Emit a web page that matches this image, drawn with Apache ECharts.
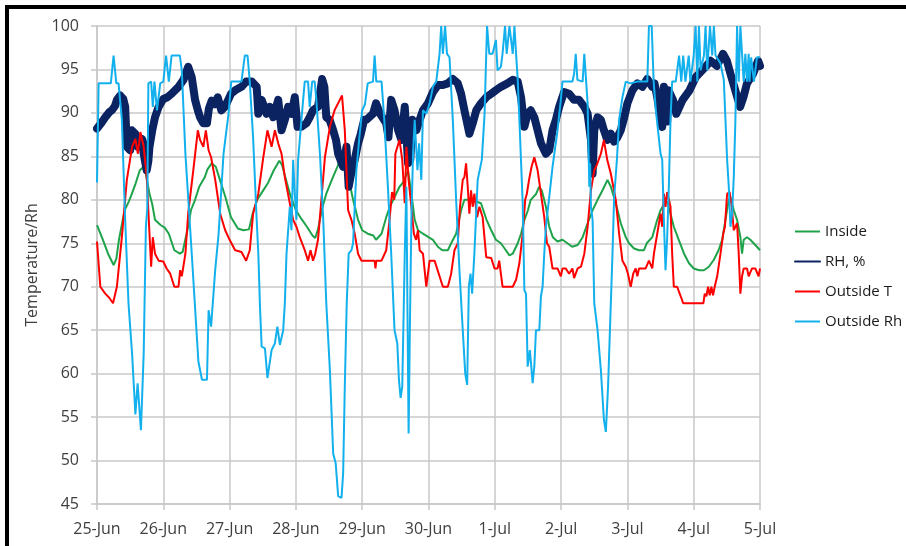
<!DOCTYPE html>
<html>
<head>
<meta charset="utf-8">
<title>Temperature / RH</title>
<script src="https://cdn.jsdelivr.net/npm/echarts@6/dist/echarts.min.js"></script>
<style>
html, body { margin: 0; padding: 0; background: #fff; }
#chart { width: 906px; height: 546px; }
</style>
</head>
<body>
<div id="chart"></div>
<script>
// x axis: hours since 25-Jun 00:00, one tick per day
var dayLabels = ["25-Jun", "26-Jun", "27-Jun", "28-Jun", "29-Jun", "30-Jun", "1-Jul", "2-Jul", "3-Jul", "4-Jul", "5-Jul"];
var seriesNames = ["Inside", "RH, %", "Outside T", "Outside Rh"];

// [hour, value]
var inside = [
	[0,77.1],[2,75.5],[4,73.8],[6,72.5],[7,73.2],[8,75.5],[10,78.8],[11.5,79.8],[12.5,80.6],[14,81.9],[15.5,83.4],[16.5,83.7],[17.5,83.3],
	[19,80.7],[20,79.5],[21,77.7],[23,77.1],[24.5,76.8],[26,76.1],[28,74.2],[30,73.8],[31,74],[32,75.5],[33,76.9],[34,78.8],[35.5,80],
	[37,81.5],[39,82.6],[40,83.5],[41.5,84.2],[43,83.8],[44.5,82.3],[46.5,80.3],[48.5,78],[51,76.7],[53,76.5],[55,76.6],[56.5,78.6],
	[58,80],[60,81],[62,82],[64,83.4],[66,84.5],[67,84],[68,82.8],[70,80.5],[72,78.8],[74,77.8],[76,76.9],[78,75.9],[79,75.6],[80,76.6],
	[81.5,79],[83,80.7],[85,82.3],[87,83.8],[88,84.6],[89,84.2],[91,82.6],[92.7,80],[94.5,77.7],[96,76.5],[98,76.1],[100,75.9],[101,75.4],
	[103,76.1],[104.7,78],[106,79.2],[107.7,80.3],[109.5,81.5],[111,82.1],[112.6,83.4],[113.8,80.7],[115,77.7],[116.2,76.5],[118,76.1],
	[120,75.7],[121.6,75.4],[123.4,74.6],[125,74.2],[127,74.2],[128.2,75],[130,76.1],[131.8,78.8],[133,80],[135.5,80],[137.3,79.8],
	[139,79.6],[141,77.7],[142.7,76.5],[144.4,75.4],[146.2,75],[148,74.2],[149.3,73.6],[150.5,73.8],[152.3,75],[153.5,76.1],[154.7,77.7],
	[156,78.8],[157,80],[159,80.7],[160,81.5],[161,81.1],[162.5,79.2],[163.7,76.9],[165,75.7],[166.7,75.2],[168.5,75.4],[170.3,75],
	[172,74.6],[174,74.8],[175.8,75.7],[177.6,77.3],[179.4,78.8],[181.2,80],[183,81.1],[184.8,82.3],[186,81.5],[187.8,79.6],[189.6,77.3],
	[191.4,75.7],[192.6,75],[194.4,74.4],[196.2,74.2],[198,74.2],[199,75],[201,75.7],[202.8,77.7],[204,78.8],[205.5,79.6],[206.4,79.8],
	[207.6,78.4],[208.8,76.9],[210.6,75.4],[212.5,73.8],[214.3,72.7],[216,72.1],[218,71.9],[219.7,71.9],[221.5,72.3],[223.3,73.1],
	[225,74.2],[226.3,75.4],[227.5,77.7],[228.7,80],[229.3,80.3],[230.5,78.8],[231.7,77.7],[232.9,75.7],[233.5,73.8],[234.1,75.4],
	[235.3,75.7],[236.5,75.4],[237.7,75],[238.9,74.6],[240,74.2]
];

var rhPct = [
	[0,88.2],[1.5,88.8],[3,89.5],[4.5,90.1],[5.4,90.3],[6.5,90.8],[7.2,91.5],[8.4,92],[9.5,91.6],[10.2,90.7],[10.8,86.1],[12,85.7],
	[12.6,88],[13.9,87.6],[14.8,86.1],[16.3,87],[16.9,85.3],[18,83.4],[18.6,84.5],[19,86.1],[20,88],[21,89.5],[22.3,90.7],[24,91.6],
	[25.5,91.8],[27,92.2],[29.5,93],[31.3,93.8],[33,95.3],[34.3,94.1],[35.5,91.5],[36.5,90.3],[37.3,89.5],[38.5,88.8],[39.8,88.8],
	[40.5,90.5],[41.5,91.4],[42.7,91],[43.7,91.8],[45,90.3],[46.3,90.7],[47.5,91.5],[48.5,92.2],[50,92.6],[52.3,93],[54,93.6],[56,93.6],
	[57.8,93],[58.4,89.9],[59.6,91.5],[61.4,89.9],[62.6,90.7],[63.8,89.5],[65.6,91.5],[66.8,88],[68,89.2],[69.2,90.7],[70.4,89.9],
	[71.6,91.8],[72.6,88.4],[74,88.4],[75.8,88.8],[77,89.5],[78.2,90.3],[80,90.7],[81.5,93.9],[82.3,93],[83,89.5],[84.2,89.2],[85.5,88],
	[86.5,86.9],[87.3,85.3],[89.1,83.8],[90.3,86.1],[91.1,81.5],[92,83],[93.3,84.6],[94.5,86.5],[95.5,87.6],[96.7,89.2],[97.5,89.2],
	[99.9,89.9],[101,91.1],[102.5,89.9],[104.7,88.8],[105.5,87.2],[106.5,91.5],[107.7,90.3],[109,88],[110.2,86.9],[111.4,90.7],
	[112.6,84.2],[113.4,84.6],[114.2,89.2],[115.6,88],[116.8,89.2],[118,90.3],[119.8,91.1],[121.6,92.4],[123.4,93.2],[125.2,93.2],
	[127,93.4],[128.8,93.9],[130.6,93.4],[131.8,92.2],[133,90.3],[134.8,87.6],[136,88.8],[137.3,90.3],[139,91.1],[140.9,91.8],
	[142.7,92.2],[144.4,92.6],[146.2,93],[148.6,93.4],[150.5,93.8],[152.3,93.6],[153.5,91.8],[154.7,88.4],[155.9,89.9],[157,90.3],
	[158.3,89.5],[159.5,88],[160.7,86.5],[162.5,85.3],[163.7,85.7],[164.9,88],[166.1,89.2],[167.3,90.7],[169.1,92.4],[170.9,92.2],
	[172.7,91.5],[174.5,91.5],[176.4,90.7],[177.6,89.9],[178.8,86.9],[179.4,83],[180,88],[181.2,89.5],[182.4,89.2],[183.5,88],
	[184.7,86.9],[186,87.6],[187.2,86.7],[188.4,87.2],[189.6,88],[190.8,89.4],[192,91.1],[193.8,92.6],[195.6,93.4],[197.4,93],
	[199.2,93.9],[201,93],[201.8,93.4],[202.8,91.8],[204,89.2],[204.6,88.4],[205.2,93],[206.4,89],[206.9,92.6],[208.5,91.5],[209.7,89.9],
	[212,91.5],[214.5,92.6],[216.7,94.1],[218.5,94.7],[220.3,95.3],[222.1,96],[224.4,95.4],[226.6,96.8],[228,96],[229.3,94.5],
	[230.5,93.2],[232.8,90.7],[234,91.8],[235.3,93.4],[237.5,94.5],[239.3,96],[240,95.4]
];

var outsideT = [
	[0,75.2],[1.2,70],[3,69.2],[4.5,68.7],[5.8,68.1],[7.2,70],[9,75.7],[10.8,82.3],[12.7,86.1],[13.9,87],[14.8,85.3],[15.7,87.8],
	[16.9,86.1],[18,82.6],[19,76.1],[19.6,72.3],[20.2,75.7],[21,73.8],[22.3,73],[24,72.9],[25.2,72.1],[26.5,71.5],[28,70],[29.5,70],
	[30.1,71.9],[30.7,71.2],[32,73.8],[33,78.4],[35,83.8],[36.5,88],[37.3,86.9],[38.5,86.1],[39.4,88],[40.4,85.7],[41.3,84.9],
	[42.8,82.3],[44.6,78.4],[46.4,76.5],[48,75.4],[50,74.2],[52.3,74],[54,73],[55.3,74.2],[56.5,78.4],[58.4,80.7],[60.2,84.9],
	[61.7,88],[63.2,86.1],[64.4,88],[65.6,86.5],[66.8,85.3],[68,82.6],[69.8,79.6],[71,77.7],[72.2,76.9],[73.4,75.7],[75.2,74.2],
	[76.4,73],[77.3,74.2],[78.2,73],[79,73.8],[80,75.4],[81.3,80.3],[82.5,84.9],[84.3,88.4],[86,90.3],[87.9,91.5],[88.7,92],[89.7,88],
	[90.9,78.8],[92.1,77.7],[93.3,76.1],[94.5,73.8],[95.7,73],[98,73],[100.5,73],[100.8,72.1],[101.1,73],[103,73],[104.7,74.2],
	[105.9,77.7],[106.8,80.9],[107.6,80],[108,85.3],[109.5,86.9],[110.5,84.6],[111.4,79.6],[112,86.1],[112.8,82.3],[113.8,79.2],
	[114.7,76.1],[115.5,75.4],[116.2,76.5],[116.8,74.2],[118,73.8],[119.2,70],[120.4,73],[122.2,73],[124,71.2],[125.2,70],[127,70],
	[128.2,71.5],[129.4,74.2],[130.6,75],[131.4,79.2],[132.4,82.3],[133,82.6],[133.6,84.2],[134.2,81.5],[134.8,78.4],[135.4,81.1],
	[136,79.2],[136.6,80.7],[137.6,78],[138.4,79.2],[139.6,78],[140.9,73.4],[142.7,73.3],[143.9,72.1],[145,72.1],[145.6,73],
	[146.2,71.5],[146.8,70],[150.5,70],[151.7,70.8],[152.9,72.7],[154.1,76.1],[155,80],[155.6,80.7],[156.4,82.3],[157.3,83.8],
	[158.3,84.9],[159.5,83.4],[160.7,80.7],[161.9,78],[162.9,75],[163.7,74.6],[164.9,72.1],[166.7,72.1],[167.9,71.2],[168.5,72.1],
	[169.7,72.1],[170.9,71.5],[172.1,72.1],[172.7,71],[174,72.1],[175.2,72.3],[176.4,73.8],[177.6,76.9],[178.8,81.1],[180,83.4],
	[180.9,84],[182.4,85.3],[183.5,86.9],[184.7,84.6],[186,83],[187.8,80],[189,76.1],[190.2,73],[191.4,72.3],[192.2,71.5],[193.2,70],
	[194.1,71.5],[195,72.1],[195.6,71.2],[196.2,72.1],[198.6,72.1],[199.8,73],[201,72.1],[201.6,73.8],[202.8,76.1],[204,78.4],
	[204.6,76.9],[205.2,80.7],[205.8,79.2],[206.4,80.9],[207.6,79.2],[208.2,73.8],[208.8,70],[210,70],[211.3,68.9],[212.2,68.1],
	[219.5,68.1],[220,69.2],[220.6,68.9],[221.2,70],[221.8,69],[222.4,70],[223,69],[223.6,70],[224.5,71.2],[225.7,73.8],[226.7,76.1],
	[227.3,76.9],[228.1,80.7],[229,80.9],[229.8,79.2],[230.5,76.5],[231.7,77.3],[232.3,73.8],[232.9,69.2],[233.5,71.2],[234.1,72.1],
	[235.3,72.1],[235.9,71.2],[237.1,72.1],[238.3,72.1],[239.5,71.2],[240,72.1]
];

var outsideRh = [
	[0,82],[0.6,93.4],[5,93.4],[6,96.6],[7,93.4],[7.8,93.4],[9,89.2],[10.2,77.7],[11.4,68.1],[12.7,62.3],[13.9,55.3],[14.7,58.9],
	[15.9,53.5],[16.9,62.3],[17.7,76.9],[18.2,79],[18.6,93.4],[19.6,93.6],[20.2,90.7],[20.8,93.6],[21.7,90.3],[22.9,93.4],[24,93.6],
	[25,96.6],[26,93.6],[27,96.6],[30,96.6],[30.7,94.9],[32,85.3],[34.3,73.8],[36.7,61.4],[38,59.3],[39.8,59.3],[40.4,67.3],[41.3,65.4],
	[42.8,72],[44,76],[45.8,85.3],[47.6,89.9],[48.6,93.6],[52.3,93.6],[53.5,96.6],[54.5,96.6],[55.3,93.6],[56.5,87.2],[57.8,77.7],
	[58.4,73.8],[59,67.7],[59.6,63.1],[60.8,62.9],[61.7,59.5],[63.2,62.7],[64.4,63.5],[65.3,65.4],[66.2,63.3],[67.4,65],[68,68.1],
	[68.6,73.8],[69.8,79.2],[70.4,76.5],[71,84.6],[71.6,80.7],[72.2,77.7],[72.8,84.6],[74,89.2],[75.2,93.6],[76.4,93.6],[77,90.7],
	[77.9,93.6],[78.8,93.6],[79.4,91.5],[80.7,85.3],[81.9,77.7],[83,68.1],[84.3,60.4],[85.5,50.8],[86.4,49.7],[87.3,45.9],[88.5,45.7],
	[89.1,48.5],[89.7,58.5],[90.4,68.1],[91.1,73.8],[92.1,74.2],[92.7,75],[93.9,83.4],[95.1,87.6],[96,90.3],[97,91],[98,93.4],
	[99.9,93.6],[100.5,96.6],[101.1,93.6],[103,93.6],[104,89.2],[105.3,81.5],[106.5,73.8],[107.7,65],[108.7,63.5],[109.3,59.3],
	[109.9,57.2],[110.5,58.5],[111.4,73.8],[112,81.5],[112.4,66.9],[112.8,53.1],[113.3,66.2],[113.8,77.7],[114.4,85.3],[115,89.2],
	[116,83.4],[116.6,86.5],[117.4,82.3],[118,90.3],[119.2,89.9],[120.4,91.1],[121.6,93],[122.8,93.6],[124,96.8],[124.6,100],
	[125.2,96.8],[126,100],[126.7,96.8],[127.6,96.4],[128.8,89.2],[130,80],[131.2,71.9],[132.4,65],[133.3,60],[134,58.7],[134.6,70],
	[135.2,71.5],[135.8,69.2],[136.6,73.8],[137.8,82.3],[139.3,84.6],[140.3,89.9],[140.9,96.8],[141.2,100],[142,96.8],[143.2,96.8],
	[144.4,98.4],[145,94.9],[146.2,95.3],[146.8,96.8],[147.7,100],[148.3,96.8],[149.3,100],[149.9,100],[150.5,96.8],[151.1,100],
	[151.7,96.8],[152.3,93.8],[152.9,89.2],[154.1,79.6],[154.7,69.6],[155.3,69.2],[155.9,60.8],[156.7,62.7],[157.7,58.9],[158.3,60.8],
	[158.9,65],[160.1,65],[160.7,68.9],[161.3,70],[161.9,73.8],[162.5,76.9],[163.7,80.3],[164.9,83.8],[166.7,88],[167.9,91.5],
	[168.5,93.6],[172.1,93.6],[172.7,94.5],[173.3,96.8],[173.9,93.8],[175.8,93.6],[176.4,96.8],[177,96.6],[177.6,91.1],[178.2,81.5],
	[178.5,84.2],[178.8,79.2],[179.4,77.7],[180,68.1],[181.2,65],[182.4,60.4],[183.5,54.7],[184.2,53.3],[185,58.5],[185.8,66.2],
	[186.6,73.8],[187.2,80.3],[188.2,84.6],[189,89.2],[190.2,91.8],[191.4,93.6],[193,93.4],[195.6,93.6],[199.2,93.6],[199.8,100],
	[200.8,100],[201.5,93.6],[202.3,90.3],[204,85.3],[204.6,84.6],[205.2,77.7],[205.8,71.9],[206.4,75.7],[207,81.5],[207.6,89.2],
	[208.2,93.6],[209.5,93.6],[210.7,96.6],[211.5,93.6],[212.2,96.6],[213,93.6],[214.2,96.6],[214.8,93.6],[216,96.6],[216.7,100],
	[217.3,93.6],[217.9,100],[218.5,94.9],[219.7,96.6],[220.3,100],[220.9,94.9],[221.9,100],[222.7,96.6],[223.3,100],[223.9,96.6],
	[224.5,96.8],[225.7,95.7],[226.9,93.8],[227.5,89.2],[228.1,84.6],[228.7,81.5],[229.3,76.9],[229.9,78.4],[230.5,82.6],[231.1,89.2],
	[231.7,100],[232.3,93.6],[232.9,100],[233.5,96.8],[234.1,93.6],[234.7,96.8],[235.3,93.6],[235.9,96.8],[236.2,93.6],[236.8,96.4],
	[237.8,93.6],[238.9,96.4],[240,96.4]
];

var font = "'Open Sans', 'Noto Sans', sans-serif";
var gridGray = "#c8c8c8";

var chart = echarts.init(document.getElementById("chart"));

var option = {
	animation: false,
	backgroundColor: "#fff",
	grid: {
		left: 97,
		right: 146,
		top: 26,
		bottom: 42
	},
	graphic: [
		// frame around the screenshot (top and left edges)
		{ type: "rect", shape: { x: 5, y: 5, width: 901, height: 4 }, style: { fill: "#000" } },
		{ type: "rect", shape: { x: 5, y: 5, width: 4, height: 541 }, style: { fill: "#000" } }
	],
	legend: {
		orient: "vertical",
		left: 789,
		top: 219,
		itemWidth: 25,
		itemHeight: 14,
		itemGap: 15,
		data: seriesNames,
		// hide the marker dot, keep only the line
		itemStyle: { opacity: 0 },
		textStyle: { fontFamily: font, fontSize: 15, color: "#1a1a1a" }
	},
	xAxis: {
		type: "value",
		min: 0,
		max: 240,
		interval: 24,
		axisLine: { show: true, lineStyle: { color: gridGray, width: 1.5 } },
		axisTick: { show: true, length: 6, lineStyle: { color: gridGray, width: 1.5 } },
		splitLine: { show: true, lineStyle: { color: gridGray, width: 1.5 } },
		axisLabel: {
			margin: 17,
			fontFamily: font,
			fontSize: 16,
			color: "#404040",
			formatter: function(v) {
				return dayLabels[Math.round(v / 24)];
			}
		}
	},
	yAxis: {
		type: "value",
		min: 45,
		max: 100,
		interval: 5,
		name: "Temperature/Rh",
		nameLocation: "middle",
		nameGap: 46,
		nameTextStyle: { fontFamily: font, fontSize: 16, color: "#404040" },
		axisLine: { show: true, lineStyle: { color: gridGray, width: 1.5 } },
		axisTick: { show: true, length: 6, lineStyle: { color: gridGray, width: 1.5 } },
		splitLine: { show: true, lineStyle: { color: gridGray, width: 1.5 } },
		axisLabel: { margin: 18, fontFamily: font, fontSize: 16, color: "#404040" }
	},
	series: [
		{
			name: "Inside",
			type: "line",
			data: inside,
			symbol: "none",
			color: "#1fa34a",
			lineStyle: { width: 2, color: "#1fa34a" }
		},
		{
			name: "RH, %",
			type: "line",
			data: rhPct,
			symbol: "none",
			color: "#0b2361",
			lineStyle: { width: 8, color: "#0b2361", cap: "round", join: "round" }
		},
		{
			name: "Outside T",
			type: "line",
			data: outsideT,
			symbol: "none",
			color: "#ff0000",
			lineStyle: { width: 2, color: "#ff0000" }
		},
		{
			name: "Outside Rh",
			type: "line",
			data: outsideRh,
			symbol: "none",
			color: "#13b0ee",
			lineStyle: { width: 2, color: "#13b0ee" }
		}
	]
};

chart.setOption(option);
</script>
</body>
</html>
